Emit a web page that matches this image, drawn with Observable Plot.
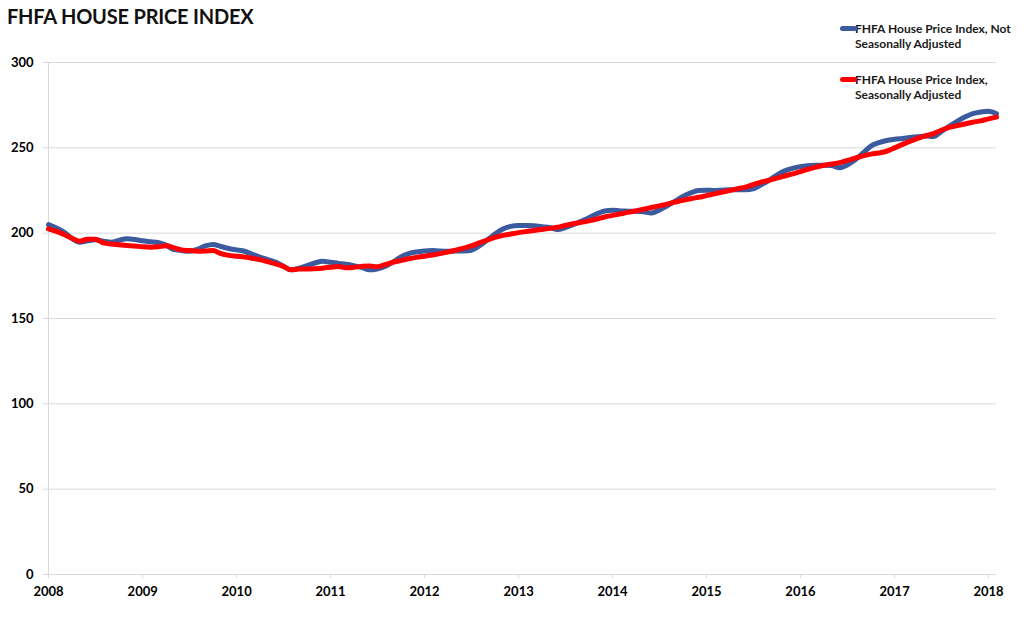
<!DOCTYPE html>
<html>
<head>
<meta charset="utf-8">
<script src="https://cdn.jsdelivr.net/npm/d3@7"></script>
<script src="https://cdn.jsdelivr.net/npm/@observablehq/plot@0.6"></script>
<style>
  html, body { margin: 0; padding: 0; background: #fff; }
  #wrap { position: relative; width: 1024px; height: 618px; font-family: Lato, "Open Sans", sans-serif; }
  #title { position: absolute; left: 7px; top: 4px; font-size: 20px; font-weight: 700; color: #111; letter-spacing: -0.2px; }
  .leg { position: absolute; left: 840px; font-size: 12px; font-weight: 700; color: #1a1a1a; line-height: 15px; }
  .leg .sw { position: absolute; left: 0; top: 5px; width: 17px; height: 5px; border-radius: 2.5px; }
  .leg .tx { margin-left: 15px; }
</style>
</head>
<body>
<div id="wrap">
  <div id="chart"></div>
  <div id="title"></div>
  <div id="legend"></div>
</div>
<script>
// ---- Data (monthly, Jan 2008 onward) ----
const startYear = 2008;
const yearLabels = ["2008","2009","2010","2011","2012","2013","2014","2015","2016","2017","2018"];
const yTicks = [0, 50, 100, 150, 200, 250, 300];
const seriesNames = ["FHFA House Price Index, Not Seasonally Adjusted", "FHFA House Price Index, Seasonally Adjusted"];
const seriesColors = ["#3B5B9E", "#FF0000"];

const nsa = [
  205, 203, 200.6, 197, 194.7, 195.5, 196.1, 195.3, 194.7, 195.8, 196.7, 196.3,
  195.5, 195, 194.5, 193, 190.5, 189.8, 189.4, 190.5, 192.5, 193.4, 192.2, 191,
  190.2, 189.4, 187.8, 186, 184.5, 183, 180.8, 178.5, 179.5, 181, 182.5, 183.5,
  183, 182.3, 181.8, 181, 180, 178.5, 179, 180.5, 183, 186, 188, 189,
  189.6, 189.8, 189.5, 189.4, 189.5, 189.6, 190, 192.5, 196, 199.5, 202.5, 204,
  204.5, 204.5, 204.3, 203.8, 203.4, 202.1, 203.2, 205, 207, 209, 211.3, 213,
  213.5, 213, 212.9, 212.8, 212.5, 211.8, 213.5, 216, 218.8, 221.5, 223.6, 225,
  225.2, 225, 225.2, 225.4, 225.4, 225.4, 226, 228.3, 231, 234, 236.5, 238,
  239, 239.5, 239.8, 239.8, 239.6, 238.3, 240, 243, 247, 251, 253, 254.3,
  255, 255.5, 256, 256.5, 257, 256.6, 259.5, 262.6, 265.5, 268, 270, 271,
  271.5, 270
];
const sa = [
  202.5, 201, 199.2, 197, 195.3, 196.5, 196.5, 194.3, 193.6, 193.2, 192.8, 192.5,
  192, 191.8, 192, 192.6, 191.5, 190.2, 189.8, 189.4, 189.5, 189.8, 188, 187,
  186.5, 186, 185.3, 184.5, 183.3, 182, 180.5, 178.5, 179, 179, 179.2, 179.5,
  180, 180.5, 179.7, 180, 180.5, 180.8, 180.3, 181.5, 183, 184, 185, 185.8,
  186.5, 187.2, 188, 189, 190, 191.2, 192.5, 194.3, 196, 197.5, 198.7, 199.5,
  200.3, 201, 201.6, 202.2, 202.8, 203.5, 204.5, 205.5, 206.3, 207.2, 208.3, 209.5,
  210.4, 211.3, 212.2, 213, 214, 215, 216, 217, 218.2, 219.3, 220.2, 221,
  222, 223, 224, 225, 226, 227, 228.5, 229.9, 231, 232.3, 233.5, 234.7,
  236, 237.5, 238.7, 239.8, 240.5, 241.3, 242.6, 244, 245.3, 246.3, 247, 248,
  250, 252, 253.8, 255.5, 257, 258.3, 260.3, 262, 263, 264, 265, 265.8,
  267, 268
];

// ---- Build tables ----
const monthDate = i => new Date(Date.UTC(startYear, i, 1));
const table = [];
nsa.forEach((v, i) => table.push({date: monthDate(i), value: v, series: seriesNames[0]}));
sa.forEach((v, i) => table.push({date: monthDate(i), value: v, series: seriesNames[1]}));
const yearDates = yearLabels.map(y => new Date(Date.UTC(+y, 0, 1)));
const xStart = monthDate(0);
const xEnd = monthDate(nsa.length - 1);

const chart = Plot.plot({
  width: 1024,
  height: 618,
  marginLeft: 48,
  marginRight: 28,
  marginTop: 62,
  marginBottom: 44,
  style: {fontFamily: "Lato, 'Open Sans', sans-serif", fontSize: "13px", fontWeight: 700, background: "#fff", color: "#000"},
  x: {type: "utc", domain: [xStart, xEnd]},
  y: {domain: [0, 300]},
  marks: [
    Plot.gridY(yTicks, {stroke: "#d9d9d9", strokeOpacity: 1, strokeWidth: 1}),
    Plot.ruleX([xStart], {stroke: "#d9d9d9", strokeWidth: 1}),
    Plot.axisY({ticks: yTicks, tickSize: 5, tickPadding: 10, stroke: "#d9d9d9", fill: "#000", label: null}),
    Plot.axisX({ticks: yearDates, tickFormat: d => String(d.getUTCFullYear()), tickSize: 4, tickPadding: 8, stroke: "#d9d9d9", fill: "#000", label: null}),
    Plot.lineY(table.filter(d => d.series === seriesNames[0]), {x: "date", y: "value", stroke: seriesColors[0], strokeWidth: 5, curve: "monotone-x"}),
    Plot.lineY(table.filter(d => d.series === seriesNames[1]), {x: "date", y: "value", stroke: seriesColors[1], strokeWidth: 5, curve: "monotone-x"})
  ]
});
document.getElementById("chart").appendChild(chart);

document.getElementById("title").textContent = "FHFA HOUSE PRICE INDEX";

const legendLines = [["FHFA House Price Index, Not", "Seasonally Adjusted"], ["FHFA House Price Index,", "Seasonally Adjusted"]];
const legendTops = [21, 72];
const legend = document.getElementById("legend");
legendLines.forEach((lines, i) => {
  const item = document.createElement("div");
  item.className = "leg";
  item.style.top = legendTops[i] + "px";
  const sw = document.createElement("div");
  sw.className = "sw";
  sw.style.background = seriesColors[i];
  item.appendChild(sw);
  const tx = document.createElement("div");
  tx.className = "tx";
  tx.innerHTML = lines.map(l => l.replace(/&/g, "&amp;")).join("<br>");
  item.appendChild(tx);
  legend.appendChild(item);
});
</script>
</body>
</html>
